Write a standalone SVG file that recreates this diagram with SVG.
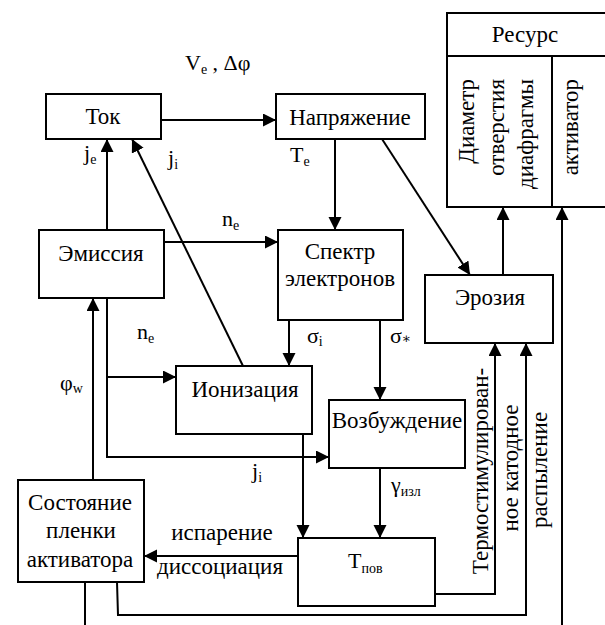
<svg xmlns="http://www.w3.org/2000/svg" width="605" height="625" viewBox="0 0 605 625">
<defs>
<marker id="ah" markerUnits="userSpaceOnUse" markerWidth="14" markerHeight="14" refX="13" refY="6.5" orient="auto">
<path d="M0,0 L13,6.5 L0,13 z" fill="#000"/>
</marker>
</defs>
<style>
text{font-family:"Liberation Serif","Times New Roman",Tinos,"Nimbus Roman","Noto Serif","DejaVu Serif",FreeSerif,serif}
.t{font-size:23px;fill:#000;text-anchor:middle}
.l{font-size:22px;fill:#000}
.s{font-size:14px}
.box{fill:#fff;stroke:#000;stroke-width:2}
.c{fill:none;stroke:#000;stroke-width:2}
.a{marker-end:url(#ah)}
</style>
<rect width="605" height="625" fill="#fff"/>
<g id="connectors">
<line class="c a" x1="161" y1="120" x2="276" y2="120"/>
<line class="c a" x1="335" y1="139" x2="335" y2="230"/>
<line class="c a" x1="382" y1="139" x2="470" y2="275"/>
<line class="c a" x1="107" y1="230" x2="107" y2="139"/>
<line class="c a" x1="243" y1="366" x2="132" y2="139"/>
<line class="c a" x1="164" y1="242" x2="278" y2="242"/>
<polyline class="c a" points="107,298 107,457 329,457"/>
<line class="c a" x1="107" y1="377" x2="176" y2="377"/>
<line class="c a" x1="93" y1="480" x2="93" y2="298"/>
<line class="c a" x1="289" y1="320" x2="289" y2="366"/>
<line class="c a" x1="380" y1="320" x2="380" y2="400"/>
<line class="c a" x1="303" y1="434" x2="303" y2="538"/>
<line class="c a" x1="380" y1="468" x2="380" y2="538"/>
<line class="c a" x1="298" y1="556" x2="144" y2="556"/>
<polyline class="c a" points="435,594 495,594 495,343"/>
<polyline class="c a" points="117,582 118,615 526,615 526,343"/>
<line class="c" x1="85" y1="582" x2="85" y2="626"/>
<line class="c a" x1="562" y1="626" x2="562" y2="207"/>
<line class="c a" x1="503" y1="275" x2="503" y2="207"/>
</g>
<g id="labels">
<text class="l" x="185" y="70">V<tspan class="s" dy="4">e</tspan><tspan dy="-4"> , Δφ</tspan></text>
<text class="l" x="84" y="160">j<tspan class="s" dy="4">e</tspan></text>
<text class="l" x="168" y="165">j<tspan class="s" dy="4">i</tspan></text>
<text class="l" x="290" y="162">T<tspan class="s" dy="4">e</tspan></text>
<text class="l" x="222" y="226">n<tspan class="s" dy="4">e</tspan></text>
<text class="l" x="137" y="339">n<tspan class="s" dy="4">e</tspan></text>
<text class="l" x="60" y="390">φ<tspan class="s" dy="3">w</tspan></text>
<text class="l" x="307" y="343">σ<tspan class="s" dy="3">i</tspan></text>
<text class="l" x="390" y="343">σ<tspan class="s" dy="0">∗</tspan></text>
<text class="l" x="252" y="478">j<tspan class="s" dy="4">i</tspan></text>
<text class="l" x="391" y="492">γ<tspan class="s" dy="4">изл</tspan></text>
<text class="t" x="222" y="540">испарение</text>
<text class="t" x="220" y="574">диссоциация</text>
<text class="t" transform="translate(488,471) rotate(-90)">Термостимулирован-</text>
<text class="t" transform="translate(518,468) rotate(-90)">ное катодное</text>
<text class="t" transform="translate(547,470) rotate(-90)">распыление</text>
</g>
<g id="tok">
<rect class="box" x="46" y="94" width="115" height="45"/>
<text class="t" x="103" y="124">Ток</text>
</g>
<g id="napryazhenie">
<rect class="box" x="276" y="94" width="149" height="45"/>
<text class="t" x="350" y="125">Напряжение</text>
</g>
<g id="resurs">
<rect class="box" x="447" y="13" width="165" height="194"/>
<line class="c" x1="447" y1="56" x2="612" y2="56"/>
<line class="c" x1="552" y1="56" x2="552" y2="207"/>
<text class="t" x="525" y="42">Ресурс</text>
<text class="t" style="text-anchor:end" transform="translate(474,79) rotate(-90)">Диаметр</text>
<text class="t" style="text-anchor:end" transform="translate(504,79) rotate(-90)">отверстия</text>
<text class="t" style="text-anchor:end" transform="translate(533,79) rotate(-90)">диафрагмы</text>
<text class="t" style="text-anchor:end" transform="translate(578,79) rotate(-90)">активатор</text>
</g>
<g id="emissiya">
<rect class="box" x="39" y="230" width="125" height="68"/>
<text class="t" x="101" y="261">Эмиссия</text>
</g>
<g id="spektr">
<rect class="box" x="278" y="230" width="125" height="90"/>
<text class="t" x="340" y="259">Спектр</text>
<text class="t" x="340" y="286">электронов</text>
</g>
<g id="eroziya">
<rect class="box" x="425" y="275" width="128" height="68"/>
<text class="t" x="490" y="305">Эрозия</text>
</g>
<g id="ionizaciya">
<rect class="box" x="176" y="366" width="136" height="68"/>
<text class="t" x="245" y="397">Ионизация</text>
</g>
<g id="vozbuzhdenie">
<rect class="box" x="329" y="400" width="136" height="68"/>
<text class="t" x="397" y="428">Возбуждение</text>
</g>
<g id="tpov">
<rect class="box" x="298" y="538" width="137" height="68"/>
<text class="l" x="348" y="568">T<tspan class="s" dy="5">пов</tspan></text>
</g>
<g id="sostoyanie">
<rect class="box" x="18" y="480" width="126" height="102"/>
<text class="t" x="80" y="510">Состояние</text>
<text class="t" x="81" y="538">пленки</text>
<text class="t" x="80" y="567">активатора</text>
</g>
</svg>
